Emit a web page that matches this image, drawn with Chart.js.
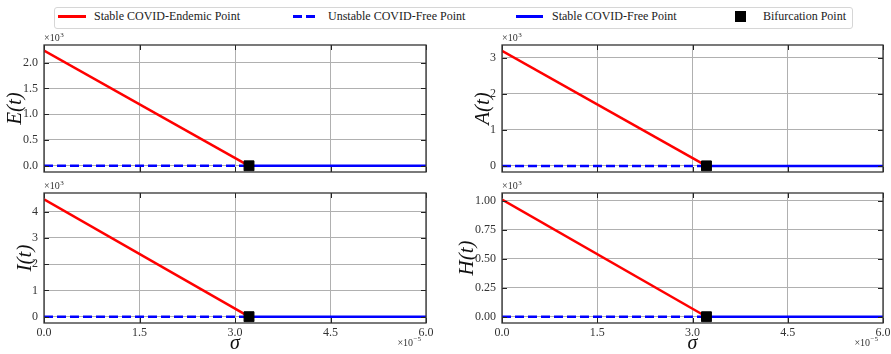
<!DOCTYPE html>
<html>
<head>
<meta charset="utf-8">
<script src="https://cdn.jsdelivr.net/npm/chart.js@4.4.0/dist/chart.umd.min.js"></script>
<style>
  body { margin: 0; background: #fff; width: 891px; height: 354px; position: relative; overflow: hidden; font-family: "Liberation Serif", "DejaVu Serif", "Times New Roman", serif; }
  canvas { position: absolute; }
  #legend-box { position: absolute; left: 54px; top: 7px; width: 797px; height: 20px; border: 1px solid #d6d6d6; border-radius: 3px; }
  .lg-text { position: absolute; top: 9px; font-size: 12px; line-height: 14px; color: #222; white-space: nowrap; }
  .lg-swatch { position: absolute; }
</style>
</head>
<body>
<div id="legend-box"></div>
<div class="lg-swatch" style="left:58px;top:15px;width:28px;height:3px;background:#ff0000"></div>
<div class="lg-text" style="left:94px">Stable COVID-Endemic Point</div>
<div class="lg-swatch" style="left:293px;top:15px;width:22px;height:3px;background:repeating-linear-gradient(to right,#0000ff 0 9px,transparent 9px 13px)"></div>
<div class="lg-text" style="left:328px">Unstable COVID-Free Point</div>
<div class="lg-swatch" style="left:516px;top:15px;width:27px;height:3px;background:#0000ff"></div>
<div class="lg-text" style="left:552px">Stable COVID-Free Point</div>
<div class="lg-swatch" style="left:735px;top:11px;width:11px;height:11px;background:#000"></div>
<div class="lg-text" style="left:763px">Bifurcation Point</div>

<canvas id="chart-E" width="440" height="150" style="left:0;top:30px"></canvas>
<canvas id="chart-A" width="451" height="150" style="left:440px;top:30px"></canvas>
<canvas id="chart-I" width="440" height="174" style="left:0;top:180px"></canvas>
<canvas id="chart-H" width="451" height="174" style="left:440px;top:180px"></canvas>

<script>
// --- DATA ---
// sigma values in units of 1e-5
const sigmaTicks = [0, 1.5, 3.0, 4.5, 6.0];
const sigmaMax = 6.0;
const sigmaBifurcation = 3.22;

// compartments (values in units of 1e3)
const compartments = ['E', 'A', 'I', 'H'];
const endemicAtZero = [2.23, 3.20, 4.47, 1.01];

const yTicksE = [0, 0.5, 1.0, 1.5, 2.0];
const yTicksA = [0, 1, 2, 3];
const yTicksI = [0, 1, 2, 3, 4];
const yTicksH = [0, 0.25, 0.5, 0.75, 1.0];
const yDecimals = [1, 0, 0, 2];
const yMins = [-0.12, -0.17, -0.24, -0.054];
const yMaxs = [2.34, 3.36, 4.71, 1.066];

// --- STYLE ---
const FONT = '"Liberation Serif", "DejaVu Serif", "Times New Roman", serif';
const RED = '#ff0000';
const BLUE = '#0000ff';
const GRID = '#b0b0b0';

// frame, inward ticks and the ×10^n offset labels
const framePlugin = {
    id: 'frame',
    afterDatasetsDraw(chart, args, opts) {
        const { ctx, chartArea } = chart;
        const { left, right, top, bottom } = chartArea;
        const x = chart.scales.x;
        const y = chart.scales.y;
        ctx.save();
        ctx.strokeStyle = '#222';
        ctx.lineWidth = 1;
        ctx.beginPath();
        x.ticks.forEach(t => {
            const px = Math.round(x.getPixelForValue(t.value)) + 0.5;
            ctx.moveTo(px, bottom); ctx.lineTo(px, bottom - 5);
            ctx.moveTo(px, top); ctx.lineTo(px, top + 5);
        });
        y.ticks.forEach(t => {
            const py = Math.round(y.getPixelForValue(t.value)) + 0.5;
            ctx.moveTo(left, py); ctx.lineTo(left + 5, py);
            ctx.moveTo(right, py); ctx.lineTo(right - 5, py);
        });
        ctx.stroke();
        ctx.lineWidth = 1.3;
        ctx.strokeStyle = '#333';
        ctx.strokeRect(left, top, right - left, bottom - top);

        ctx.fillStyle = '#333';
        ctx.textBaseline = 'alphabetic';
        // y offset text
        ctx.textAlign = 'left';
        ctx.font = '10px ' + FONT;
        ctx.fillText('×10', left, top - 4);
        const w = ctx.measureText('×10').width;
        ctx.font = '7px ' + FONT;
        ctx.fillText('3', left + w + 0.5, top - 8);
        // x offset text
        if (opts.showX) {
            ctx.font = '7px ' + FONT;
            const sup = '−5';
            const ws = ctx.measureText(sup).width;
            ctx.fillText(sup, right - 5 - ws, bottom + 18);
            ctx.font = '10px ' + FONT;
            ctx.textAlign = 'right';
            ctx.fillText('×10', right - 5 - ws - 0.5, bottom + 23);
        }
        ctx.restore();
    }
};

function makePanel(idx, yTicks, layout) {
    const name = compartments[idx];
    const ctx = document.getElementById('chart-' + name).getContext('2d');
    const dec = yDecimals[idx];
    return new Chart(ctx, {
        type: 'line',
        data: {
            datasets: [
                {
                    label: 'Bifurcation Point',
                    data: [{ x: sigmaBifurcation, y: 0 }],
                    showLine: false,
                    pointStyle: 'rect',
                    pointRadius: 7,
                    pointBackgroundColor: '#000',
                    pointBorderColor: '#000',
                    pointBorderWidth: 1
                },
                {
                    label: 'Stable COVID-Endemic Point',
                    data: [{ x: 0, y: endemicAtZero[idx] }, { x: sigmaBifurcation, y: 0 }],
                    borderColor: RED,
                    borderWidth: 2.5,
                    pointRadius: 0
                },
                {
                    label: 'Unstable COVID-Free Point',
                    data: [{ x: 0, y: 0 }, { x: sigmaBifurcation, y: 0 }],
                    borderColor: BLUE,
                    borderWidth: 2.5,
                    borderDash: [9, 4],
                    pointRadius: 0
                },
                {
                    label: 'Stable COVID-Free Point',
                    data: [{ x: sigmaBifurcation, y: 0 }, { x: sigmaMax, y: 0 }],
                    borderColor: BLUE,
                    borderWidth: 2.5,
                    pointRadius: 0
                }
            ]
        },
        options: {
            responsive: false,
            animation: false,
            devicePixelRatio: 1,
            layout: { padding: { left: 0, right: layout.padRight, top: layout.padTop, bottom: 0 } },
            plugins: {
                legend: { display: false },
                tooltip: { enabled: false },
                frame: { showX: layout.showX }
            },
            scales: {
                x: {
                    type: 'linear',
                    min: 0,
                    max: sigmaMax,
                    afterBuildTicks: s => { s.ticks = sigmaTicks.map(v => ({ value: v })); },
                    afterFit: s => { s.height = layout.xHeight; s.paddingLeft = 0; s.paddingRight = 0; },
                    grid: { color: GRID, lineWidth: 1, drawTicks: false },
                    border: { display: false },
                    ticks: {
                        display: layout.showX,
                        padding: 3,
                        maxRotation: 0,
                        color: '#333',
                        font: { family: FONT, size: 12 },
                        callback: v => Number(v).toFixed(1)
                    },
                    title: {
                        display: layout.showX,
                        text: 'σ',
                        color: '#111',
                        font: { family: FONT, size: 20, style: 'italic', lineHeight: 1 },
                        padding: { top: 0, bottom: 0 }
                    }
                },
                y: {
                    min: yMins[idx],
                    max: yMaxs[idx],
                    afterBuildTicks: s => { s.ticks = yTicks.map(v => ({ value: v })); },
                    afterFit: s => { s.width = layout.yWidth; s.paddingTop = 0; s.paddingBottom = 0; },
                    grid: { color: GRID, lineWidth: 1, drawTicks: false },
                    border: { display: false },
                    ticks: {
                        padding: 6,
                        color: '#333',
                        font: { family: FONT, size: 12 },
                        callback: v => Number(v).toFixed(dec)
                    },
                    title: {
                        display: true,
                        text: name + '(t)',
                        color: '#111',
                        font: { family: FONT, size: 21, style: 'italic', lineHeight: 1 },
                        padding: { top: layout.titlePad, bottom: 0 }
                    }
                }
            }
        },
        plugins: [framePlugin]
    });
}

window.addEventListener('load', () => {
    makePanel(0, yTicksE, { padTop: 15, padRight: 14, xHeight: 6, yWidth: 44, showX: false, titlePad: 5 });
    makePanel(1, yTicksA, { padTop: 15, padRight: 7, xHeight: 6, yWidth: 62, showX: false, titlePad: 33 });
    makePanel(2, yTicksI, { padTop: 13, padRight: 14, xHeight: 31, yWidth: 44, showX: true, titlePad: 15 });
    makePanel(3, yTicksH, { padTop: 13, padRight: 7, xHeight: 31, yWidth: 62, showX: true, titlePad: 17 });
});
</script>
</body>
</html>
